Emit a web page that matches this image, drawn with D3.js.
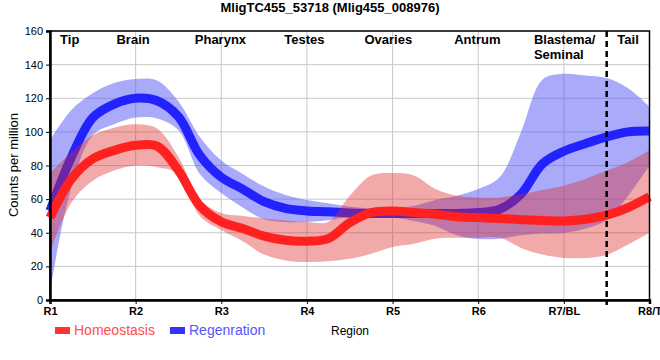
<!DOCTYPE html>
<html><head><meta charset="utf-8">
<script src="https://cdn.jsdelivr.net/npm/d3@7"></script>
<style>body{margin:0;background:#fff}svg{display:block;font-family:"Liberation Sans",Arial,sans-serif}</style>
</head><body>
<svg id="c" width="660" height="360"></svg>
<script>
const title = "MligTC455_53718 (Mlig455_008976)";
const regions = ["R1","R2","R3","R4","R5","R6","R7/BL","R8/T"];
const yTicks = [0,20,40,60,80,100,120,140,160];
const positions = [1,1.25,1.5,1.75,2,2.25,2.5,2.75,3,3.25,3.5,3.75,4,4.25,4.5,4.75,5,5.25,5.5,5.75,6,6.25,6.5,6.75,7,7.25,7.5,7.75,8];
const homeoMean  = [49,72,84,89,92,91.5,77,56,46.5,42.5,38,35.5,35,36.5,46,52,53,52,51,49.5,49,48.5,47.8,47.3,47,48,50.5,55,61.5];
const homeoUpper = [75,88,98,102.5,104.5,102,85,60,51.7,50,48.5,47.3,46.4,46.5,62,74,75.5,74,66,62,61,61,63,65.5,68,72,77,82,89];
const homeoLower = [28,58,71,77,80,79,75,50,41.6,35,27,23.5,22.6,23,24.5,27.5,31.5,33.5,36.5,37,37,37,31,27,25,25,26.8,33,40];
const regenMean  = [53,85,108.5,116.5,120,118.5,109,86,73,66,58.5,54.5,53,52.5,51.7,51.5,51.5,51.5,51.5,51.5,52,54,63,81,88.5,93,97,100,100.5];
const regenUpper = [95,113,123,129,131.4,130.5,118,97,83,75,67.5,62.5,59.5,57.5,55.5,54.5,54.5,56,59.5,62,66,73,100,131,134.5,133.5,132,126,115];
const regenLower = [5,67,98,104.5,108.5,108,101,75,63.6,55,48,46.4,46.4,47.5,49.4,50,49,47,44,38.5,36.3,36.5,38.5,39.5,39.8,42.5,47.6,62,80];
const tissueNames = ["Tip","Brain","Pharynx","Testes","Ovaries","Antrum","Blastema/|Seminal","Tail"];
const tissueAt    = [1.23,1.97,2.99,3.97,4.95,5.99,6.65,7.75];
const seriesNames = ["Homeostasis","Regenration"];

const svg = d3.select("#c");
const L=50, R=649.5, T=31, B=300;
const x = d3.scaleLinear().domain([1,8]).range([L,R]);
const y = d3.scaleLinear().domain([0,160]).range([B,T]);

// grid
svg.append("g").selectAll("line").data(yTicks).join("line")
  .attr("x1",L).attr("x2",R).attr("y1",d=>y(d)).attr("y2",d=>y(d))
  .attr("stroke","#c8c8c8").attr("stroke-width",1);
svg.append("g").selectAll("line").data(regions).join("line")
  .attr("x1",(d,i)=>x(i+1)).attr("x2",(d,i)=>x(i+1)).attr("y1",T).attr("y2",B)
  .attr("stroke","#c8c8c8").attr("stroke-width",1);

const curve = d3.curveCatmullRom.alpha(0.5);
const pts = (arr)=>arr.map((v,i)=>[positions[i],v]);
const band = (lo,hi)=>positions.map((p,i)=>({p,lo:lo[i],hi:hi[i]}));
const area = d3.area().x(d=>x(d.p)).y0(d=>y(d.lo)).y1(d=>y(d.hi)).curve(curve);
const line = d3.line().x(d=>x(d[0])).y(d=>y(d[1])).curve(curve);

const plot = svg.append("g");
plot.append("path").attr("d",area(band(regenLower,regenUpper)))
  .attr("fill","rgb(85,85,245)").attr("fill-opacity",0.5);
plot.append("path").attr("d",line(pts(regenMean)))
  .attr("fill","none").attr("stroke","#2222ff").attr("stroke-width",9);
plot.append("path").attr("d",area(band(homeoLower,homeoUpper)))
  .attr("fill","rgb(220,40,40)").attr("fill-opacity",0.4);
plot.append("path").attr("d",line(pts(homeoMean)))
  .attr("fill","none").attr("stroke","#ff2020").attr("stroke-width",9);

// dashed divider
svg.append("line").attr("x1",x(7.5)).attr("x2",x(7.5)).attr("y1",T).attr("y2",B+5)
  .attr("stroke","#000").attr("stroke-width",2.5).attr("stroke-dasharray","6,4");

// frame
svg.append("rect").attr("x",L).attr("y",T).attr("width",R-L).attr("height",B-T)
  .attr("fill","none").attr("stroke","#000").attr("stroke-width",1.5);

// axes
const yAxis = d3.axisLeft(y).tickValues(yTicks).tickSize(4).tickPadding(3);
const gy = svg.append("g").attr("transform",`translate(${L},0)`).call(yAxis);
gy.select(".domain").attr("stroke-width",2.5);
gy.selectAll("text").attr("font-size",11).attr("fill","#000").attr("font-family","Liberation Sans, Arial, sans-serif");
const xAxis = d3.axisBottom(x).tickValues(d3.range(1,9)).tickFormat((d)=>regions[d-1]).tickSize(4).tickPadding(3);
const gx = svg.append("g").attr("transform",`translate(0,${B})`).call(xAxis);
gx.select(".domain").attr("stroke-width",2.5);
gx.selectAll("text").attr("font-size",11).attr("font-weight","bold").attr("fill","#000").attr("font-family","Liberation Sans, Arial, sans-serif");

// title
svg.append("text").attr("x",330).attr("y",12).attr("text-anchor","middle")
  .attr("font-size",13).attr("font-weight","bold").text(title);

// tissue labels
tissueNames.forEach((n,i)=>{
  const parts = n.split("|");
  const t = svg.append("text").attr("font-size",13).attr("font-weight","bold")
    .attr("text-anchor", parts.length>1 ? "start" : "middle");
  parts.forEach((p,j)=>t.append("tspan").attr("x",x(tissueAt[i])).attr("y",44+j*14.5).text(p));
});

// y title
svg.append("text").attr("transform","translate(18,165) rotate(-90)").attr("text-anchor","middle")
  .attr("font-size",13).text("Counts per million");
// x title
svg.append("text").attr("x",331).attr("y",335).attr("font-size",12).text("Region");

// legend
const lg = [{n:seriesNames[0],c:"#ff3333",t:"#ff4d4d",x:55},{n:seriesNames[1],c:"#3333ff",t:"#5555ff",x:170}];
lg.forEach(d=>{
  svg.append("rect").attr("x",d.x).attr("y",327).attr("width",15).attr("height",7).attr("fill",d.c);
  svg.append("text").attr("x",d.x+19).attr("y",335).attr("font-size",14).attr("fill",d.t).text(d.n);
});
</script>
</body></html>
